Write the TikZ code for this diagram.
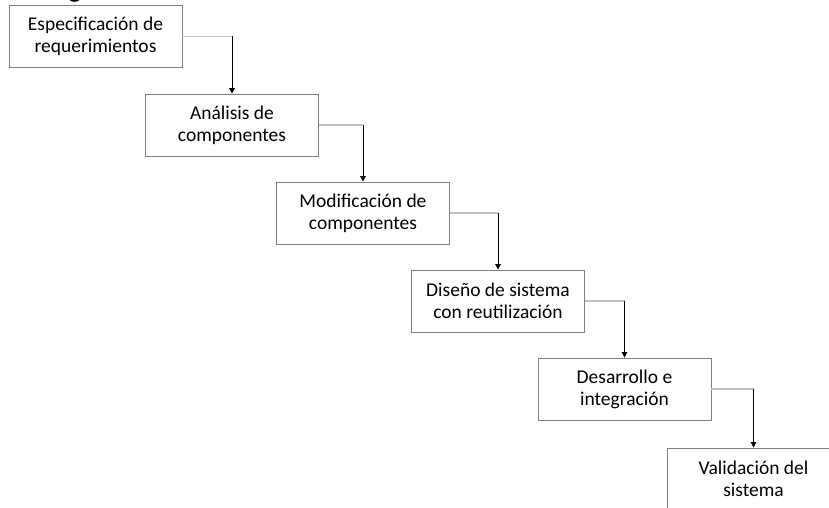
\documentclass[tikz,border=0pt]{standalone}
\usepackage{fontspec}
\setmainfont{Carlito}
\newfontfamily\headfont{Liberation Sans}
\usetikzlibrary{arrows.meta}
\definecolor{boxgray}{HTML}{808080}
\definecolor{linegray}{HTML}{C0C0C0}
\tikzset{
  stepbox/.style={draw=boxgray, line width=0.9pt, fill=white, minimum width=173pt, minimum height=62pt,
    inner sep=0pt, align=center, font=\fontsize{19.5}{22}\selectfont},
  hconn/.style={draw=linegray, line width=1.4pt},
  vconn/.style={draw=black, line width=1pt, -{Triangle[width=5.5pt,length=5.5pt]}}
}
\begin{document}
\begin{tikzpicture}[x=1pt,y=-1pt]
\useasboundingbox (0,0) rectangle (829,508);
\clip (0,0) rectangle (829,508);
\fill[white] (0,0) rectangle (829,508);
\node[anchor=base, inner sep=0pt, font=\headfont\fontsize{28}{30}\selectfont] (head) at (75,-3.5) {g};
\node[stepbox] (b1) at (95.5,36.5) {Especificación de\\requerimientos};
\node[stepbox] (b2) at (232,125) {Análisis de\\componentes};
\node[stepbox] (b3) at (363,213) {Modificación de\\componentes};
\node[stepbox] (b4) at (498,301) {Diseño de sistema\\con reutilización};
\node[stepbox] (b5) at (624.5,389) {Desarrollo e\\integración};
\node[stepbox] (b6) at (753.5,479) {Validación del\\sistema};
\foreach \a/\b in {b1/b2,b2/b3,b3/b4,b4/b5,b5/b6}{
  \coordinate (c-\a) at (\a.east -| \b.north);
  \draw[hconn] (\a.east) -- (c-\a);
  \draw[vconn] (c-\a) -- (\b.north);
}
\end{tikzpicture}
\end{document}
